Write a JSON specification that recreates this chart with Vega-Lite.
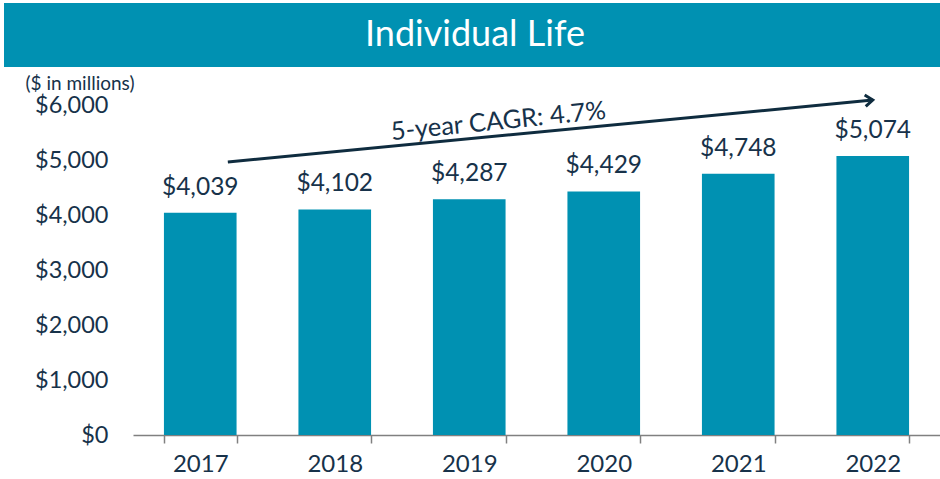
{
  "$schema": "https://vega.github.io/schema/vega-lite/v6.json",
  "padding": {"left": 4, "top": 3, "right": 0, "bottom": 0},
  "background": "white",
  "spacing": 7,
  "config": {"font": "Lato", "view": {"stroke": null}, "axis": {"grid": false}},
  "datasets": {
    "bars": [
      {"year": "2017", "value": 4039},
      {"year": "2018", "value": 4102},
      {"year": "2019", "value": 4287},
      {"year": "2020", "value": 4429},
      {"year": "2021", "value": 4748},
      {"year": "2022", "value": 5074}
    ],
    "arrow": [{"year": "2017", "year2": "2022", "value": 4964, "value2": 6091}],
    "head": [{"year": "2022", "value": 6091}],
    "note": [{"year": "2019", "value": 5700, "label": "5-year CAGR: 4.7%"}],
    "banner": [{"title": "Individual Life"}]
  },
  "vconcat": [
    {
      "width": 936,
      "height": 64,
      "view": {"fill": "#0091b2", "stroke": null},
      "data": {"name": "banner"},
      "mark": {"type": "text", "color": "white", "fontSize": 36, "dx": 3, "align": "center", "baseline": "middle"},
      "encoding": {"text": {"field": "title"}}
    },
    {
      "width": 936,
      "height": 330,
      "layer": [
        {
          "data": {"name": "bars"},
          "mark": {"type": "bar", "color": "#0091b2"},
          "encoding": {
            "x": {
              "field": "year", "type": "ordinal", "title": null,
              "scale": {"range": [129, 936], "paddingInner": 0.46, "paddingOuter": 0.23},
              "axis": {"labelAngle": 0, "tickBand": "extent", "domainColor": "#808080", "tickColor": "#808080", "tickSize": 8, "domainWidth": 1.5, "tickWidth": 1.5, "labelFontSize": 24, "labelColor": "#17324a", "labelPadding": 9}
            },
            "y": {
              "field": "value", "type": "quantitative", "title": "($ in millions)",
              "scale": {"domain": [0, 6000], "nice": false},
              "axis": {"offset": -129, "values": [0, 1000, 2000, 3000, 4000, 5000, 6000], "format": "$,.0f", "domain": false, "ticks": false, "grid": false, "labelFontSize": 23.5, "labelColor": "#17324a", "labelPadding": 25, "titleAngle": 0, "titleAlign": "left", "titleBaseline": "top", "titleX": -108, "titleY": -31, "titleFontSize": 19, "titleFontWeight": "normal", "titleColor": "#17324a"}
            }
          }
        },
        {
          "data": {"name": "bars"},
          "mark": {"type": "text", "baseline": "alphabetic", "dy": -18, "fontSize": 24.5, "color": "#17324a"},
          "encoding": {
            "x": {"field": "year", "type": "ordinal", "title": null},
            "y": {"field": "value", "type": "quantitative", "title": "($ in millions)"},
            "text": {"field": "value", "type": "quantitative", "format": "$,.0f"}
          }
        },
        {
          "data": {"name": "arrow"},
          "mark": {"type": "rule", "strokeWidth": 3, "color": "#0f2c3f"},
          "encoding": {
            "x": {"field": "year", "type": "ordinal", "title": null, "bandPosition": 0.88},
            "x2": {"field": "year2"},
            "y": {"field": "value", "type": "quantitative", "title": "($ in millions)"},
            "y2": {"field": "value2"}
          }
        },
        {
          "data": {"name": "head"},
          "mark": {"type": "point", "shape": "M -1 -0.75 L 0 0 L -1 0.75", "filled": false, "strokeWidth": 3, "size": 230, "angle": 354.5, "color": "#0f2c3f", "opacity": 1},
          "encoding": {
            "x": {"field": "year", "type": "ordinal", "title": null},
            "y": {"field": "value", "type": "quantitative", "title": "($ in millions)"}
          }
        },
        {
          "data": {"name": "note"},
          "mark": {"type": "text", "angle": 354.3, "fontSize": 25.5, "color": "#17324a", "align": "center", "baseline": "middle"},
          "encoding": {
            "x": {"field": "year", "type": "ordinal", "title": null, "bandPosition": 0.9},
            "y": {"field": "value", "type": "quantitative", "title": "($ in millions)"},
            "text": {"field": "label"}
          }
        }
      ]
    }
  ]
}
